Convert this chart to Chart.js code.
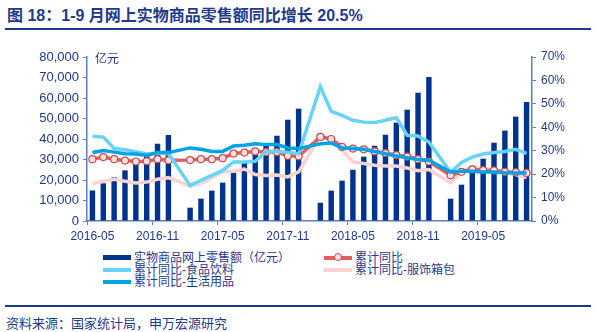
<!DOCTYPE html>
<html>
<head>
<meta charset="utf-8">
<script src="https://cdn.jsdelivr.net/npm/chart.js@4/dist/chart.umd.min.js"></script>
<style>
  body { margin: 0; width: 596px; height: 332px; background: #fff; position: relative; overflow: hidden;
         font-family: "Liberation Sans", "Noto Sans CJK SC", sans-serif; color: #1F3A8A; }
  #title { position: absolute; left: 7px; top: 2px; font-size: 16px; font-weight: bold; white-space: nowrap; }
  .rule { position: absolute; left: 5px; width: 586px; height: 2px; background: #1F3A8A; }
  #unit { position: absolute; left: 95px; top: 49px; font-size: 12px; }
  #wrap { position: absolute; left: 0; top: 35px; width: 596px; height: 210px; }
  #legend { position: absolute; left: 103px; top: 252px; font-size: 12px; line-height: 12px; }
  .item { position: absolute; white-space: nowrap; height: 12px; }
  .sym { position: absolute; left: 0; top: 4px; width: 28px; height: 4px; }
  .dot { position: absolute; left: 10px; top: -3px; width: 6px; height: 6px; border-radius: 50%;
         border: 1px solid #D04848; background: #FBE3E3; }
  .txt { position: absolute; left: 31px; top: 0; }
  #source { position: absolute; left: 6px; top: 313px; font-size: 13px; white-space: nowrap; }
</style>
</head>
<body>
<div id="title">图 18：1-9 月网上实物商品零售额同比增长 20.5%</div>
<div class="rule" style="top:28px"></div>
<div id="wrap"><canvas id="chart"></canvas></div>
<div id="unit">亿元</div>
<div id="legend"></div>
<div class="rule" style="top:305px"></div>
<div id="source">资料来源：国家统计局，申万宏源研究</div>
<script>
var months = ['2016-05','2016-06','2016-07','2016-08','2016-09','2016-10','2016-11','2016-12',
  '2017-01','2017-02','2017-03','2017-04','2017-05','2017-06','2017-07','2017-08','2017-09','2017-10','2017-11','2017-12',
  '2018-01','2018-02','2018-03','2018-04','2018-05','2018-06','2018-07','2018-08','2018-09','2018-10','2018-11','2018-12',
  '2019-01','2019-02','2019-03','2019-04','2019-05','2019-06','2019-07','2019-08','2019-09'];

// 实物商品网上零售额（亿元），1月无单独数据
var retail = [14900, 18400, 21300, 24700, 28100, 31500, 37700, 41944,
  null, 6500, 10900, 14800, 18700, 23600, 28300, 33000, 36700, 41600, 49400, 54806,
  null, 8900, 14800, 19700, 25000, 31400, 36700, 42100, 48000, 54300, 62600, 70198,
  null, 10900, 17700, 24200, 30400, 38200, 44100, 50900, 58053];

// 累计同比 (%)
var yoyTotal = [26.4, 27.3, 26.4, 25.8, 25.4, 25.5, 26.4, 25.9,
  null, 26.0, 26.4, 26.4, 26.8, 28.8, 29.2, 29.7, 29.4, 29.4, 27.8, 27.6,
  null, 35.9, 35.0, 31.6, 30.9, 30.6, 29.7, 29.0, 28.1, 27.5, 26.4, 25.4,
  null, 19.5, 21.0, 22.0, 21.7, 21.6, 21.0, 20.8, 20.5];

// 累计同比-食品饮料 (%)
var yoyFood = [36.2, 35.8, 31.0, 30.4, 29.6, 28.6, 29.0, 28.8,
  null, 15.1, 17.4, 19.5, 21.6, 25.2, 25.2, 25.5, 29.7, 29.7, 29.4, 28.7,
  null, 57.3, 46.8, 45.1, 43.0, 42.2, 42.0, 43.0, 44.1, 36.6, 36.3, 33.7,
  null, 20.8, 25.0, 27.3, 28.6, 29.2, 29.7, 30.6, 28.9];

// 累计同比-服饰箱包 (%)
var yoyApparel = [16.0, 17.0, 17.8, 17.0, 16.2, 16.6, 17.8, 18.5,
  null, 15.0, 16.1, 18.5, 21.0, 21.2, 22.2, 19.8, 19.4, 19.6, 18.8, 21.0,
  null, 36.3, 35.4, 30.2, 25.2, 24.5, 23.8, 23.5, 23.5, 22.6, 21.5, 22.0,
  null, 16.3, 20.9, 23.3, 22.0, 21.6, 20.6, 19.8, 18.5];

// 累计同比-生活用品 (%)
var yoyDaily = [29.2, 30.1, 29.4, 28.7, 28.6, 28.0, 29.2, 29.2,
  null, 31.2, 30.6, 29.7, 29.7, 32.0, 32.3, 33.0, 32.6, 32.6, 31.2, 30.9,
  null, 33.0, 33.3, 31.2, 30.9, 30.6, 29.7, 28.7, 27.7, 27.0, 26.2, 25.9,
  null, 20.9, 21.2, 21.2, 20.9, 20.9, 20.6, 20.5, 20.5];

var leftTicks = [0, 10000, 20000, 30000, 40000, 50000, 60000, 70000, 80000];
var rightTicks = [0, 10, 20, 30, 40, 50, 60, 70];

var textColor = '#1F3A8A';
var axisColor = '#5B7FC0';

function lineSet(label, data, color, order) {
    return {
        type: 'line', label: label, data: data, yAxisID: 'y1',
        borderColor: color, backgroundColor: color, borderWidth: 3.5,
        pointRadius: 0, tension: 0, spanGaps: true, order: order
    };
}

var red = lineSet('累计同比', yoyTotal, '#E0605F', 3);
red.pointRadius = 3.5;
red.pointBorderWidth = 1.2;
red.pointBorderColor = '#D04848';
red.pointBackgroundColor = '#FBE3E3';

var datasets = [
    { type: 'bar', label: '实物商品网上零售额（亿元）', data: retail, yAxisID: 'y',
      backgroundColor: '#00338D', barPercentage: 0.5, categoryPercentage: 1, order: 10 },
    red,
    lineSet('累计同比-食品饮料', yoyFood, '#66D3F8', 2),
    lineSet('累计同比-服饰箱包', yoyApparel, '#F9D2D2', 4),
    lineSet('累计同比-生活用品', yoyDaily, '#00A3E6', 1)
];

var tickFont = { family: '"Liberation Sans", Arial, sans-serif', size: 12 };

new Chart(document.getElementById('chart'), {
    data: { labels: months, datasets: datasets },
    options: {
        responsive: true, maintainAspectRatio: false, animation: false,
        layout: { padding: { top: 22, left: 0, right: 0, bottom: 0 } },
        plugins: { legend: { display: false }, tooltip: { enabled: false } },
        scales: {
            x: {
                offset: true,
                grid: { display: true, drawOnChartArea: false, offset: true, tickLength: 4,
                        color: function (c) { return c.index % 6 === 0 ? axisColor : 'rgba(0,0,0,0)'; } },
                border: { color: axisColor, width: 1.5 },
                ticks: { autoSkip: false, maxRotation: 0, color: textColor, font: tickFont, padding: 4,
                         callback: function (v, i) { return i % 6 === 0 ? months[i] : ''; } },
                afterFit: function (s) { s.height = 24; }
            },
            y: {
                position: 'left', min: 0, max: 80000,
                afterBuildTicks: function (s) { s.ticks = leftTicks.map(function (v) { return { value: v }; }); },
                grid: { drawOnChartArea: false, tickLength: 4, color: axisColor },
                border: { color: axisColor, width: 1.5 },
                ticks: { color: textColor, font: { family: tickFont.family, size: 13 }, padding: 4,
                         callback: function (v) { return v.toLocaleString('en-US'); } },
                afterFit: function (s) { s.width = 87; }
            },
            y1: {
                position: 'right', min: 0, max: 70,
                afterBuildTicks: function (s) { s.ticks = rightTicks.map(function (v) { return { value: v }; }); },
                grid: { drawOnChartArea: false, tickLength: 4, color: axisColor },
                border: { color: axisColor, width: 1.5 },
                ticks: { color: textColor, font: tickFont, padding: 5,
                         callback: function (v) { return v + '%'; } },
                afterFit: function (s) { s.width = 64; }
            }
        }
    }
});

// legend: two columns, rows left to right
var legend = document.getElementById('legend');
var cols = [0, 221];
datasets.forEach(function (d, i) {
    var item = document.createElement('div');
    item.className = 'item';
    item.style.left = cols[i % 2] + 'px';
    item.style.top = (Math.floor(i / 2) * 12) + 'px';
    var sym = document.createElement('div');
    sym.className = 'sym';
    sym.style.background = d.type === 'bar' ? d.backgroundColor : d.borderColor;
    if (d.type === 'bar') { sym.style.top = '3px'; sym.style.height = '5px'; }
    if (d.pointRadius) {
        var dot = document.createElement('div');
        dot.className = 'dot';
        sym.appendChild(dot);
    }
    var txt = document.createElement('span');
    txt.className = 'txt';
    txt.textContent = d.label;
    item.appendChild(sym);
    item.appendChild(txt);
    legend.appendChild(item);
});
</script>
</body>
</html>
